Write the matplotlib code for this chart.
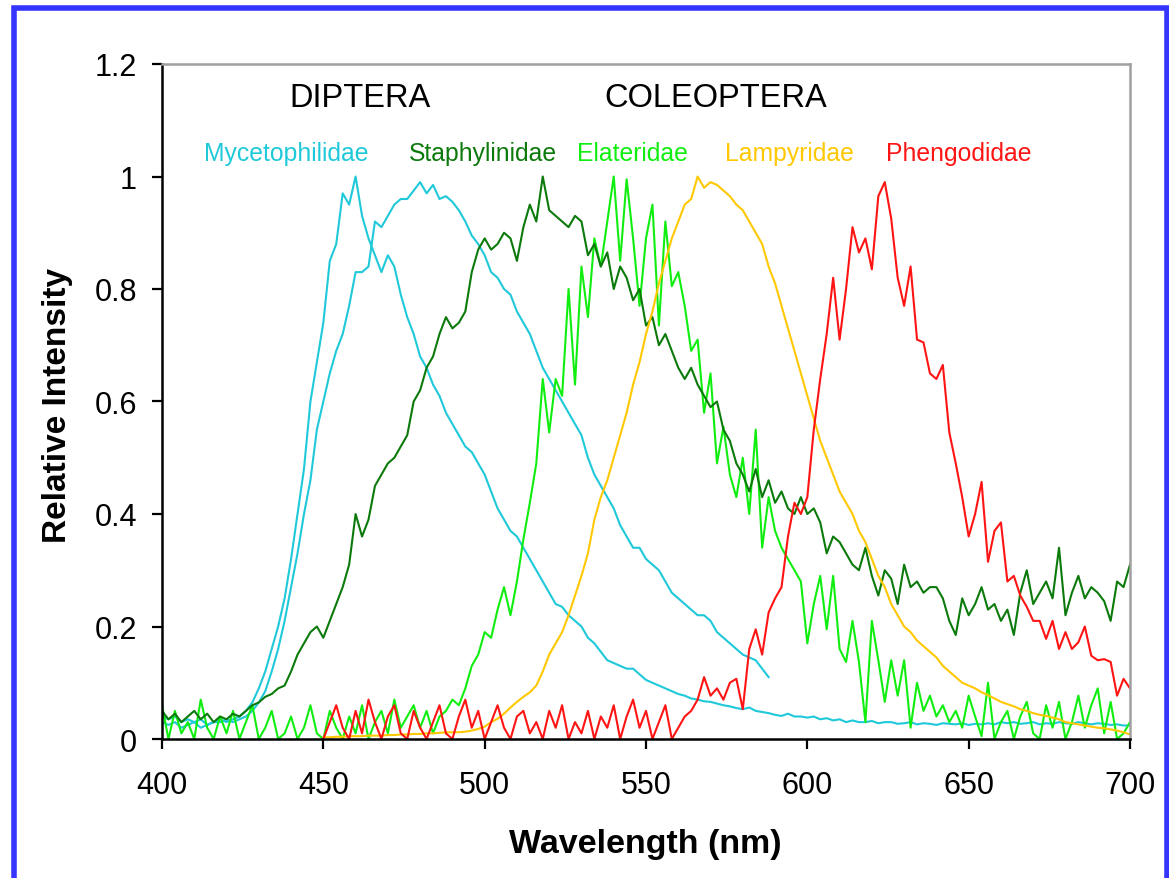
import matplotlib.pyplot as plt
import numpy as np
from matplotlib.patches import Rectangle
from matplotlib.ticker import FuncFormatter

plt.rcParams['font.family'] = ['Liberation Sans', 'DejaVu Sans']

# wavelength grids (nm), 2 nm sampling
wl_full = np.arange(400, 702, 2)
wl_myc_b = np.arange(400, 590, 2)
wl_late = np.arange(450, 702, 2)

# Mycetophilidae, narrow spectrum (peak ~460 nm)
myc_a = [
    0.030, 0.025, 0.030, 0.020, 0.025, 0.030, 0.020, 0.025, 0.030, 0.035,
    0.030, 0.035, 0.040, 0.050, 0.065, 0.090, 0.120, 0.160, 0.200, 0.250,
    0.320, 0.400, 0.480, 0.600, 0.670, 0.740, 0.850, 0.880, 0.970, 0.950,
    1.000, 0.930, 0.890, 0.860, 0.830, 0.860, 0.840, 0.790, 0.750, 0.720,
    0.680, 0.660, 0.630, 0.610, 0.580, 0.560, 0.540, 0.520, 0.510, 0.490,
    0.470, 0.440, 0.410, 0.390, 0.370, 0.360, 0.340, 0.320, 0.300, 0.280,
    0.260, 0.240, 0.235, 0.220, 0.210, 0.200, 0.180, 0.170, 0.155, 0.140,
    0.135, 0.130, 0.125, 0.125, 0.115, 0.105, 0.100, 0.095, 0.090, 0.085,
    0.080, 0.077, 0.072, 0.070, 0.067, 0.066, 0.063, 0.060, 0.058, 0.055,
    0.053, 0.056, 0.050, 0.048, 0.046, 0.043, 0.041, 0.045, 0.040, 0.040,
    0.038, 0.040, 0.035, 0.037, 0.033, 0.035, 0.030, 0.033, 0.030, 0.030,
    0.032, 0.028, 0.030, 0.030, 0.027, 0.028, 0.030, 0.026, 0.028, 0.027,
    0.025, 0.028, 0.027, 0.026, 0.028, 0.025, 0.027, 0.026, 0.028, 0.026,
    0.030, 0.028, 0.030, 0.027, 0.028, 0.030, 0.026, 0.028, 0.027, 0.030,
    0.028, 0.027, 0.030, 0.028, 0.026, 0.028, 0.027, 0.025, 0.026, 0.024,
    0.024,
]

# Mycetophilidae, broad spectrum (peak ~480 nm), recorded to ~588 nm
myc_b = [
    0.040, 0.035, 0.040, 0.030, 0.035, 0.030, 0.035, 0.025, 0.030, 0.030,
    0.035, 0.030, 0.035, 0.040, 0.050, 0.065, 0.085, 0.120, 0.160, 0.210,
    0.270, 0.330, 0.400, 0.460, 0.550, 0.600, 0.650, 0.690, 0.720, 0.770,
    0.830, 0.830, 0.840, 0.920, 0.910, 0.930, 0.950, 0.960, 0.960, 0.975,
    0.990, 0.970, 0.985, 0.960, 0.965, 0.955, 0.940, 0.920, 0.895, 0.880,
    0.860, 0.830, 0.820, 0.800, 0.790, 0.760, 0.740, 0.720, 0.690, 0.660,
    0.640, 0.620, 0.600, 0.580, 0.560, 0.540, 0.500, 0.470, 0.450, 0.430,
    0.410, 0.380, 0.360, 0.340, 0.340, 0.320, 0.310, 0.300, 0.280, 0.260,
    0.250, 0.240, 0.230, 0.220, 0.220, 0.210, 0.190, 0.180, 0.170, 0.160,
    0.150, 0.145, 0.140, 0.125, 0.110,
]

# Staphylinidae
staph = [
    0.050, 0.035, 0.045, 0.030, 0.040, 0.050, 0.035, 0.045, 0.030, 0.040,
    0.035, 0.045, 0.040, 0.050, 0.060, 0.065, 0.075, 0.080, 0.090, 0.095,
    0.120, 0.150, 0.170, 0.190, 0.200, 0.180, 0.210, 0.240, 0.270, 0.310,
    0.400, 0.360, 0.390, 0.450, 0.470, 0.490, 0.500, 0.520, 0.540, 0.600,
    0.620, 0.660, 0.680, 0.720, 0.750, 0.730, 0.740, 0.760, 0.830, 0.870,
    0.890, 0.870, 0.880, 0.900, 0.890, 0.850, 0.910, 0.950, 0.920, 1.000,
    0.940, 0.930, 0.920, 0.910, 0.930, 0.920, 0.860, 0.880, 0.840, 0.865,
    0.800, 0.840, 0.820, 0.780, 0.800, 0.735, 0.750, 0.700, 0.720, 0.690,
    0.660, 0.640, 0.660, 0.630, 0.610, 0.590, 0.600, 0.550, 0.530, 0.490,
    0.470, 0.440, 0.480, 0.430, 0.460, 0.420, 0.440, 0.410, 0.400, 0.430,
    0.400, 0.410, 0.385, 0.330, 0.360, 0.350, 0.330, 0.310, 0.300, 0.340,
    0.290, 0.255, 0.300, 0.285, 0.240, 0.310, 0.270, 0.280, 0.260, 0.270,
    0.270, 0.250, 0.210, 0.185, 0.250, 0.220, 0.240, 0.270, 0.230, 0.240,
    0.210, 0.230, 0.185, 0.260, 0.300, 0.240, 0.260, 0.280, 0.250, 0.340,
    0.220, 0.260, 0.290, 0.250, 0.270, 0.260, 0.245, 0.210, 0.280, 0.270,
    0.310,
]

# Elateridae
elat = [
    0.060, 0.000, 0.050, 0.010, 0.030, 0.000, 0.070, 0.020, 0.000, 0.040,
    0.010, 0.050, 0.000, 0.030, 0.060, 0.000, 0.020, 0.050, 0.000, 0.010,
    0.040, 0.000, 0.020, 0.060, 0.010, 0.000, 0.050, 0.020, 0.000, 0.040,
    0.010, 0.060, 0.000, 0.030, 0.050, 0.010, 0.070, 0.020, 0.040, 0.060,
    0.020, 0.050, 0.010, 0.040, 0.050, 0.070, 0.060, 0.090, 0.130, 0.150,
    0.190, 0.180, 0.230, 0.270, 0.220, 0.280, 0.355, 0.420, 0.490, 0.640,
    0.545, 0.640, 0.610, 0.800, 0.630, 0.840, 0.750, 0.890, 0.840, 0.920,
    1.000, 0.850, 0.995, 0.890, 0.770, 0.890, 0.950, 0.735, 0.920, 0.805,
    0.830, 0.770, 0.690, 0.710, 0.580, 0.650, 0.490, 0.555, 0.470, 0.430,
    0.500, 0.400, 0.550, 0.340, 0.430, 0.370, 0.340, 0.320, 0.300, 0.280,
    0.170, 0.240, 0.290, 0.195, 0.290, 0.160, 0.137, 0.210, 0.137, 0.030,
    0.210, 0.140, 0.066, 0.140, 0.077, 0.140, 0.020, 0.100, 0.050, 0.077,
    0.040, 0.060, 0.030, 0.050, 0.020, 0.077, 0.040, 0.005, 0.100, 0.000,
    0.030, 0.050, 0.000, 0.040, 0.066, 0.010, 0.000, 0.060, 0.020, 0.066,
    0.000, 0.030, 0.077, 0.020, 0.060, 0.090, 0.010, 0.066, 0.000, 0.010,
    0.030,
]

# Lampyridae (from 450 nm)
lamp = [
    0.003, 0.003, 0.004, 0.004, 0.005, 0.005, 0.005, 0.006, 0.006, 0.006,
    0.007, 0.007, 0.008, 0.008, 0.009, 0.009, 0.010, 0.010, 0.011, 0.012,
    0.012, 0.012, 0.013, 0.015, 0.018, 0.022, 0.030, 0.036, 0.045, 0.056,
    0.066, 0.075, 0.083, 0.095, 0.120, 0.150, 0.170, 0.190, 0.220, 0.255,
    0.290, 0.330, 0.390, 0.430, 0.460, 0.500, 0.540, 0.580, 0.630, 0.670,
    0.720, 0.760, 0.810, 0.850, 0.890, 0.920, 0.950, 0.960, 1.000, 0.980,
    0.990, 0.985, 0.975, 0.965, 0.950, 0.940, 0.920, 0.900, 0.880, 0.840,
    0.810, 0.770, 0.730, 0.690, 0.650, 0.610, 0.570, 0.530, 0.500, 0.470,
    0.440, 0.420, 0.400, 0.370, 0.350, 0.320, 0.290, 0.270, 0.240, 0.220,
    0.200, 0.190, 0.175, 0.165, 0.155, 0.145, 0.130, 0.120, 0.110, 0.100,
    0.095, 0.090, 0.083, 0.078, 0.072, 0.066, 0.062, 0.058, 0.053, 0.050,
    0.046, 0.043, 0.041, 0.038, 0.035, 0.030, 0.028, 0.026, 0.024, 0.022,
    0.020, 0.019, 0.017, 0.015, 0.012,
    0.008,
]

# Phengodidae (from 450 nm)
pheng = [
    0.000, 0.030, 0.060, 0.020, 0.000, 0.050, 0.010, 0.070, 0.030, 0.000,
    0.040, 0.060, 0.010, 0.000, 0.050, 0.020, 0.000, 0.030, 0.060, 0.010,
    0.000, 0.040, 0.070, 0.020, 0.050, 0.000, 0.030, 0.060, 0.020, 0.000,
    0.040, 0.050, 0.010, 0.030, 0.000, 0.050, 0.020, 0.060, 0.000, 0.030,
    0.010, 0.050, 0.000, 0.040, 0.020, 0.060, 0.000, 0.040, 0.070, 0.020,
    0.050, 0.000, 0.030, 0.060, 0.000, 0.020, 0.040, 0.050, 0.070, 0.110,
    0.077, 0.090, 0.070, 0.100, 0.107, 0.053, 0.160, 0.195, 0.150, 0.225,
    0.250, 0.270, 0.360, 0.420, 0.400, 0.430, 0.550, 0.640, 0.720, 0.820,
    0.710, 0.800, 0.910, 0.865, 0.890, 0.835, 0.965, 0.990, 0.925, 0.820,
    0.770, 0.840, 0.710, 0.705, 0.650, 0.640, 0.665, 0.545, 0.490, 0.430,
    0.360, 0.400, 0.457, 0.315, 0.370, 0.385, 0.280, 0.290, 0.255, 0.235,
    0.210, 0.210, 0.178, 0.210, 0.160, 0.190, 0.160, 0.172, 0.200, 0.148,
    0.140, 0.142, 0.137, 0.077, 0.107,
    0.090,
]

CYAN = '#1FC9D9'
DKGREEN = '#0B7A0B'
GREEN = '#10EE10'
GOLD = '#FFC800'
RED = '#FF1414'

W, H = 1169, 879
fig = plt.figure(figsize=(W / 100, H / 100), dpi=100)
ax = fig.add_axes([162 / W, 1 - 740 / H, (1130 - 162) / W, (740 - 65) / H])

lw = 1.5
ax.plot(wl_full, myc_a, color=CYAN, lw=lw)
ax.plot(wl_myc_b, myc_b, color=CYAN, lw=lw)
ax.plot(wl_full, elat, color=GREEN, lw=lw)
ax.plot(wl_full, staph, color=DKGREEN, lw=lw)
ax.plot(wl_late, lamp, color=GOLD, lw=lw)
ax.plot(wl_late, pheng, color=RED, lw=lw)

ax.set_xlim(400, 700)
ax.set_ylim(0, 1.2)
ax.set_xticks(np.arange(400, 701, 50))
ax.set_yticks(np.arange(0, 1.21, 0.2))
ax.yaxis.set_major_formatter(FuncFormatter(lambda v, p: f'{v:g}'))

for s in ['left', 'bottom']:
    ax.spines[s].set_color('black')
    ax.spines[s].set_linewidth(1.8)
for s in ['top', 'right']:
    ax.spines[s].set_color('#A0A0A0')
    ax.spines[s].set_linewidth(1.8)

ax.tick_params(axis='both', direction='out', length=7, width=1.6, labelsize=22)
ax.tick_params(axis='y', pad=11)
ax.tick_params(axis='x', pad=15)

# group headings and family names
ax.text(439.5, 1.14, 'DIPTERA', fontsize=23.5, ha='left', va='center')
ax.text(537, 1.14, 'COLEOPTERA', fontsize=23.5, ha='left', va='center')
fam_y = 1.042
fam_size = 17.8
ax.text(413, fam_y, 'Mycetophilidae', color=CYAN, fontsize=fam_size, ha='left', va='center')
ax.text(476.5, fam_y, 'Staphylinidae', color=DKGREEN, fontsize=fam_size, ha='left', va='center')
ax.text(528.5, fam_y, 'Elateridae', color=GREEN, fontsize=fam_size, ha='left', va='center')
ax.text(574.5, fam_y, 'Lampyridae', color=GOLD, fontsize=fam_size, ha='left', va='center')
ax.text(624.5, fam_y, 'Phengodidae', color=RED, fontsize=fam_size, ha='left', va='center')

fig.text(58 / W, 1 - 405 / H, 'Relative Intensity', rotation=90, fontsize=24,
         fontweight='bold', ha='center', va='center')
fig.text(645 / W, 1 - 845 / H, 'Wavelength (nm)', fontsize=24.5,
         fontweight='bold', ha='center', va='center')

# blue frame around the picture
fig.patches.append(Rectangle((14 / W, -0.05), (1167 - 14) / W, 1.05 - 9 / H,
                             transform=fig.transFigure, fill=False,
                             edgecolor='#3535FF', linewidth=4))

fig.savefig('out.png', dpi=100)
